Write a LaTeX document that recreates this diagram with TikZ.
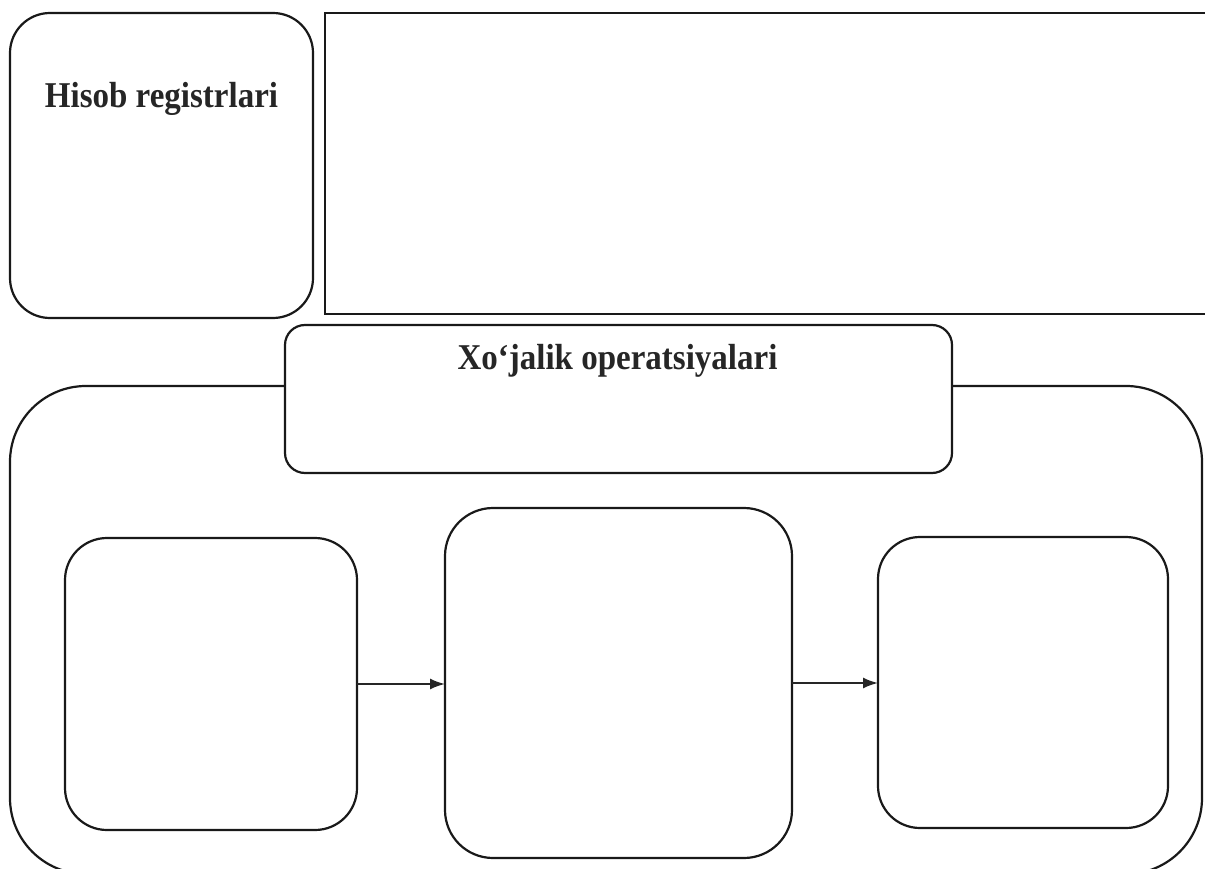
\documentclass[tikz,border=0pt]{standalone}
\usepackage{fontspec}
\setmainfont{Liberation Serif}
\usetikzlibrary{arrows.meta}
\begin{document}
\begin{tikzpicture}[x=1pt,y=-1pt,line width=2.2pt,
  rbox/.style={draw=black!90, rounded corners=#1, anchor=north west, inner sep=0pt, outer sep=0pt},
  lbl/.style={anchor=base, inner sep=0pt, font=\fontsize{33}{40}\selectfont\bfseries, text=black!85},
  arr/.style={draw=black!85, line width=1.8pt, -{Latex[length=15pt,width=11pt]}}]
\useasboundingbox (0,0) rectangle (1205,869);
% top-left box
\node[rbox=40, minimum width=303pt, minimum height=305pt] (reg) at (10,13) {};
\node[lbl] (regtxt) at (161.5,108) {\scalebox{1}[1.1]{Hisob registrlari}};
% top-right open rectangle
\coordinate (tr1) at (1212,13);
\coordinate (tr2) at (325,314);
\coordinate (tr3) at (1212,314);
\draw[black!90] (tr1) -| (tr2) -- (tr3);
% big outer box
\node[rbox=76, minimum width=1192pt, minimum height=488pt] (ops) at (10,386) {};
% title box
\node[rbox=20, fill=white, minimum width=667pt, minimum height=148pt] (title) at (285,325) {};
\node[lbl] (titletxt) at (617.5,369) {\scalebox{1}[1.1]{Xo‘jalik operatsiyalari}};
% inner boxes
\node[rbox=42, minimum width=292pt, minimum height=292pt] (left) at (65,538) {};
\node[rbox=48, minimum width=347pt, minimum height=350pt] (mid) at (445,508) {};
\node[rbox=42, minimum width=290pt, minimum height=291pt] (right) at (878,537) {};
% arrows
\draw[arr] (left.east) -- (left.east -| mid.west);
\draw[arr] (mid.east) -- (mid.east -| right.west);
\end{tikzpicture}
\end{document}
